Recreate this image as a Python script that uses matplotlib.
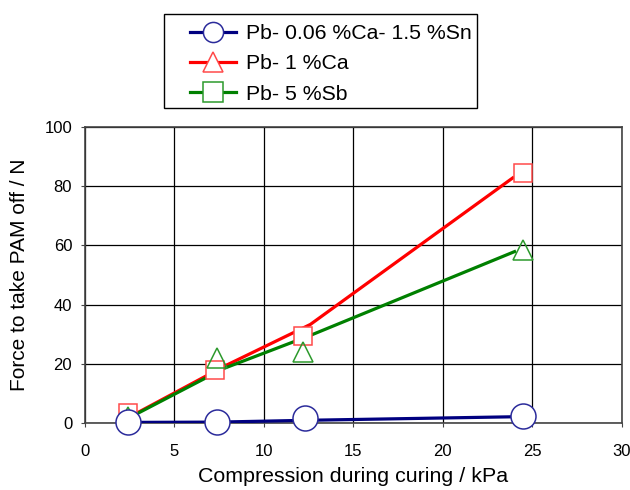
import matplotlib
matplotlib.use("Agg")
from matplotlib import pyplot as plt
from matplotlib.lines import Line2D
from matplotlib.patches import Rectangle

plt.rcParams["font.family"] = ["Liberation Sans", "DejaVu Sans"]

# =============================================================================
# data
# =============================================================================
series_names = ["Pb- 0.06 %Ca- 1.5 %Sn", "Pb- 1 %Ca", "Pb- 5 %Sb"]

# connecting lines
sn_line_x = [2.4, 7.4, 12.3, 23.9]
sn_line_y = [0.2, 0.3, 0.9, 2.1]
ca_line_x = [2.4, 7.8, 12.6, 23.9]
ca_line_y = [1.7, 19.2, 33.3, 82.8]
sb_line_x = [2.4, 7.8, 12.6, 24.0]
sb_line_y = [1.5, 18.5, 29.6, 57.9]

# markers
circle_x = [2.4, 7.4, 12.3, 24.5]
circle_y = [0.4, 0.4, 1.6, 2.4]
square_x = [2.4, 7.3, 12.2, 24.5]
square_y = [3.5, 17.8, 29.4, 84.5]
triangle_x = [2.4, 7.4, 12.2, 24.5]
triangle_y = [2.0, 21.8, 24.1, 58.6]

x_ticks = [0, 5, 10, 15, 20, 25, 30]
y_ticks = [0, 20, 40, 60, 80, 100]

navy = "#000080"
navy_edge = "#2b2b9b"
red = "#ff0000"
red_edge = "#ff4a4a"
green = "#008000"
green_edge = "#2c9a2c"

W, H = 630, 490
fig = plt.figure(figsize=(6.3, 4.9), dpi=100)
ax = fig.add_axes([84.7 / W, 1 - 423 / H, (622 - 84.7) / W, (423 - 127) / H])

ax.plot(ca_line_x, ca_line_y, color=red, lw=2.3, zorder=3)
ax.plot(sb_line_x, sb_line_y, color=green, lw=2.3, zorder=3)
ax.plot(sn_line_x, sn_line_y, color=navy, lw=2.3, zorder=3)

ax.plot(square_x, square_y, ls="none", marker="s", ms=13, mfc="white",
        mec=red_edge, mew=1.1, zorder=4)
ax.plot(triangle_x, triangle_y, ls="none", marker="^", ms=14, mfc="none",
        mec=green_edge, mew=1.1, zorder=5)
ax.plot(circle_x, circle_y, ls="none", marker="o", ms=18, mfc="white",
        mec=navy_edge, mew=1.1, zorder=6, clip_on=False)

ax.set_xlim(0, 30)
ax.set_ylim(0, 100)
ax.set_xticks(x_ticks)
ax.set_yticks(y_ticks)
ax.grid(True, color="black", lw=0.9)
ax.set_axisbelow(True)
for sp in ax.spines.values():
    sp.set_color("#444444")
    sp.set_linewidth(1.2)
ax.tick_params(axis="both", labelsize=12, direction="out", length=3,
               color="#444444")
ax.tick_params(axis="x", pad=12)
ax.tick_params(axis="y", pad=6)
ax.set_xlabel("Compression during curing / kPa", fontsize=15.4, labelpad=6)
ax.set_ylabel("Force to take PAM off / N", fontsize=15, labelpad=11)

# legend (markers as in the original legend)
handles = [
    Line2D([], [], color=navy, lw=2.3, marker="o", ms=14.5, mfc="white",
           mec=navy_edge, mew=1.1),
    Line2D([], [], color=red, lw=2.3, marker="^", ms=15, mfc="white",
           mec=red_edge, mew=1.1),
    Line2D([], [], color=green, lw=2.3, marker="s", ms=14.5, mfc="white",
           mec=green_edge, mew=1.1),
]
leg = fig.legend(handles, series_names, loc="upper left",
                 bbox_to_anchor=(190 / W, 1 - 24 / H), fontsize=15.3,
                 frameon=False, handlelength=2.15, handletextpad=0.5,
                 borderpad=0, labelspacing=0.53, borderaxespad=0)
fig.add_artist(Rectangle((164 / W, 1 - 108 / H), (477 - 164) / W, (108 - 14) / H,
                         transform=fig.transFigure, fill=False,
                         edgecolor="black", lw=1.0))

fig.savefig("out.png", dpi=100)
